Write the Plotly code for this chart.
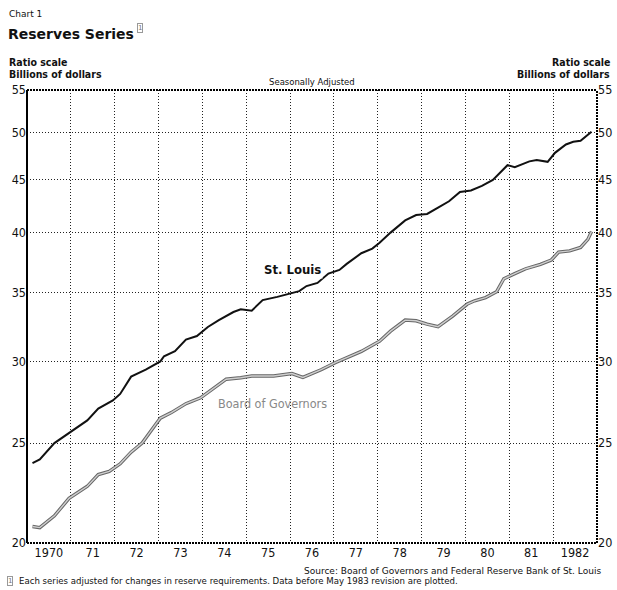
import plotly.graph_objects as go

# ---- data ----
stl_months = ["1970-02","1970-04","1970-08","1971-01","1971-05","1971-08","1971-12",
              "1972-02","1972-05","1972-09","1973-01","1973-02","1973-05","1973-08","1973-11",
              "1974-02","1974-05","1974-09","1974-11","1975-02","1975-05","1975-09","1975-12",
              "1976-03","1976-05","1976-08","1976-11","1977-02","1977-04","1977-08","1977-11",
              "1978-01","1978-04","1978-08","1978-11","1979-02","1979-05","1979-08","1979-11",
              "1980-02","1980-05","1980-08","1980-12","1981-02","1981-06","1981-08","1981-11",
              "1982-01","1982-04","1982-06","1982-08","1982-10","1982-11"]
stl_values = [23.9,24.1,25.0,25.7,26.3,27.0,27.5,
              27.9,29.0,29.45,30.0,30.35,30.7,31.5,31.75,
              32.4,32.9,33.5,33.7,33.6,34.4,34.65,34.9,
              35.1,35.5,35.75,36.5,36.8,37.3,38.2,38.6,
              39.1,40.0,41.1,41.6,41.7,42.3,42.9,43.8,
              43.95,44.4,45.0,46.5,46.3,46.9,47.05,46.85,
              47.8,48.7,49.0,49.1,49.7,50.1]

bog_months = ["1970-02","1970-04","1970-08","1970-12","1971-05","1971-08","1971-11",
              "1972-02","1972-05","1972-08","1972-12","1973-01","1973-04","1973-08","1973-12",
              "1974-03","1974-07","1974-11","1975-02","1975-08","1976-01","1976-04","1976-09",
              "1977-01","1977-04","1977-08","1978-01","1978-04","1978-08","1978-11",
              "1979-02","1979-05","1979-09","1980-01","1980-03","1980-06","1980-09","1980-11",
              "1981-02","1981-05","1981-09","1981-12","1982-02","1982-05","1982-08","1982-10","1982-11"]
bog_values = [20.75,20.7,21.25,22.1,22.7,23.3,23.47,
              23.87,24.5,25.0,26.15,26.43,26.76,27.3,27.66,
              28.17,28.83,28.93,29.04,29.04,29.2,28.95,29.45,
              29.93,30.23,30.68,31.39,32.1,32.9,32.85,
              32.6,32.42,33.2,34.1,34.35,34.6,35.05,36.08,
              36.5,36.9,37.26,37.63,38.3,38.4,38.7,39.4,40.1]

years = list(range(1970, 1983))
year_labels = ["1970","71","72","73","74","75","76","77","78","79","80","81","1982"]
y_ticks = [20, 25, 30, 35, 40, 45, 50, 55]


def to_decimal(months):
    out = []
    for m in months:
        yy, mm = m.split("-")
        out.append(int(yy) + (int(mm) - 0.5) / 12)
    return out


stl_x = to_decimal(stl_months)
bog_x = to_decimal(bog_months)

BOLD = "Liberation Sans Narrow, DejaVu Sans Condensed, DejaVu Sans"
LIGHT = "DejaVu Sans, Liberation Sans, sans-serif"
GRID_DASH = "1px,2px"

fig = go.Figure()
fig.add_trace(go.Scatter(x=bog_x, y=bog_values, mode="lines", yaxis="y2",
                         line=dict(color="#666666", width=3.4), hoverinfo="skip",
                         showlegend=False))
fig.add_trace(go.Scatter(x=bog_x, y=bog_values, mode="lines", yaxis="y2",
                         line=dict(color="#cfcfcf", width=1.4), name="Board of Governors",
                         showlegend=False))
fig.add_trace(go.Scatter(x=stl_x, y=stl_values, mode="lines",
                         line=dict(color="#111111", width=2), name="St. Louis",
                         showlegend=False))

fig.update_layout(
    width=617, height=590,
    margin=dict(l=27, r=20, t=90, b=47),
    paper_bgcolor="white", plot_bgcolor="white",
    xaxis=dict(range=[1970, 1983], tickvals=[y + 0.5 for y in years], ticktext=year_labels,
               showgrid=False, zeroline=False, ticks="", showline=False, automargin=False,
               tickfont=dict(family=BOLD, size=12.5, color="#111"),
               minor=dict(tick0=1970, dtick=1, showgrid=True, griddash=GRID_DASH,
                          gridcolor="#222", gridwidth=1, ticks="")),
    yaxis=dict(type="log", range=[1.30103, 1.740363], tickvals=y_ticks,
               ticktext=[str(v) for v in y_ticks], showgrid=True, griddash=GRID_DASH,
               gridcolor="#222", gridwidth=1, zeroline=False, ticks="", automargin=False,
               tickfont=dict(family=BOLD, size=12.5, color="#111")),
    yaxis2=dict(type="log", overlaying="y", side="right", matches="y",
                tickvals=y_ticks, ticktext=[str(v) for v in y_ticks],
                showgrid=False, zeroline=False, ticks="", automargin=False,
                tickfont=dict(family=BOLD, size=12.5, color="#111")),
)

# frame
fig.add_shape(type="line", xref="paper", yref="paper", x0=0, x1=0, y0=0, y1=1,
              line=dict(color="#000", width=2))
for (x0, y0, x1, y1) in [(0, 1, 1, 1), (1, 0, 1, 1), (0, 0, 1, 0)]:
    fig.add_shape(type="line", xref="paper", yref="paper", x0=x0, x1=x1, y0=y0, y1=y1,
                  line=dict(color="#000", width=2, dash="2px,1px"))


def ann(text, x, y, size, family=LIGHT, xanchor="left", color="#111", **kw):
    fig.add_annotation(text=text, x=x, y=y, xref="paper", yref="paper",
                       xanchor=xanchor, yanchor="middle", showarrow=False,
                       font=dict(family=family, size=size, color=color), **kw)


# page-pixel helpers (plot area in page pixels: x 27..597, y 90..543)
L, R, T, B = 27, 597, 90, 543


def px(xp):
    return (xp - L) / (R - L)


def py(yp):
    return (B - yp) / (B - T)


ann("Chart 1", px(7), py(14), 9)
ann("<b>Reserves Series</b>", px(6), py(34), 14, family="DejaVu Sans")
fig.add_annotation(text="1", x=px(137), y=py(28), xref="paper", yref="paper",
                   xanchor="left", yanchor="middle", showarrow=False,
                   font=dict(family=LIGHT, size=7, color="#777"),
                   bordercolor="#999", borderwidth=1, borderpad=0)
ann("<b>Ratio scale</b>", px(7), py(62), 10.5, family=BOLD)
ann("<b>Billions of dollars</b>", px(7), py(74), 10.5, family=BOLD)
ann("<b>Ratio scale</b>", px(612), py(62), 10.5, family=BOLD, xanchor="right")
ann("<b>Billions of dollars</b>", px(612), py(74), 10.5, family=BOLD, xanchor="right")
ann("Seasonally Adjusted", px(312), py(82), 8.5, xanchor="center")
ann("Source: Board of Governors and Federal Reserve Bank of St. Louis", px(603), py(571),
    9, xanchor="right")
fig.add_annotation(text="1", x=px(7), y=py(581), xref="paper", yref="paper",
                   xanchor="left", yanchor="middle", showarrow=False,
                   font=dict(family=LIGHT, size=7, color="#777"),
                   bordercolor="#999", borderwidth=1, borderpad=0)
ann("Each series adjusted for changes in reserve requirements. Data before May 1983 revision are plotted.",
    px(17), py(581), 8.6)

fig.add_annotation(text="<b>St. Louis</b>", x=1976.05, y=1.5665, xref="x", yref="y",
                   showarrow=False, font=dict(family=BOLD, size=13, color="#111"),
                   bgcolor="white")
fig.add_annotation(text="Board of Governors", x=1975.6, y=1.436, xref="x", yref="y",
                   showarrow=False, font=dict(family=BOLD, size=12.5, color="#888"))

fig.write_html(
    "out.html",
    config={"displayModeBar": False},
    post_script="document.body.style.margin='0';"
                "document.documentElement.style.overflow='hidden';"
                "document.body.style.overflow='hidden';",
)
